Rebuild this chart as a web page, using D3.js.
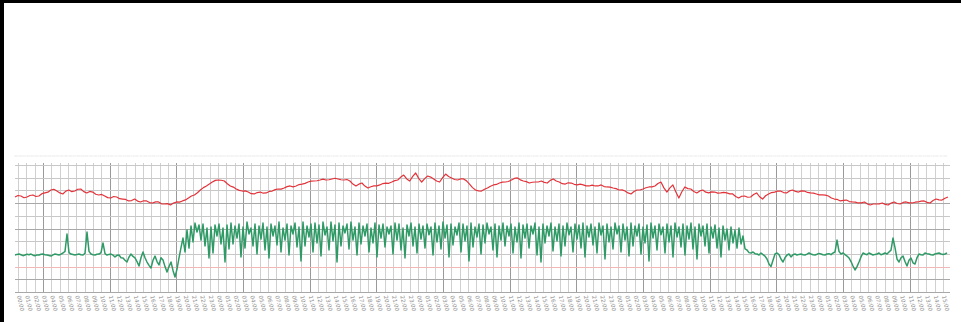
<!DOCTYPE html>
<html>
<head>
<meta charset="utf-8">
<script src="https://cdn.jsdelivr.net/npm/d3@7/dist/d3.min.js"></script>
<style>
html,body{margin:0;padding:0;background:#fff;}
svg{display:block;}
</style>
</head>
<body>
<svg id="chart" width="961" height="322"></svg>
<script>
// ---- tick labels (hourly) ----
const timeLabels = [
"00:00","01:00","02:00","03:00","04:00","05:00","06:00","07:00","08:00","09:00","10:00","11:00",
"12:00","13:00","14:00","15:00","16:00","17:00","18:00","19:00","20:00","21:00","22:00","23:00",
"00:00","01:00","02:00","03:00","04:00","05:00","06:00","07:00","08:00","09:00","10:00","11:00",
"12:00","13:00","14:00","15:00","16:00","17:00","18:00","19:00","20:00","21:00","22:00","23:00",
"00:00","01:00","02:00","03:00","04:00","05:00","06:00","07:00","08:00","09:00","10:00","11:00",
"12:00","13:00","14:00","15:00","16:00","17:00","18:00","19:00","20:00","21:00","22:00","23:00",
"00:00","01:00","02:00","03:00","04:00","05:00","06:00","07:00","08:00","09:00","10:00","11:00",
"12:00","13:00","14:00","15:00","16:00","17:00","18:00","19:00","20:00","21:00","22:00","23:00",
"00:00","01:00","02:00","03:00","04:00","05:00","06:00","07:00","08:00","09:00","10:00","11:00",
"12:00","13:00","14:00","15:00"
];

// ---- y grid values ----
const yTicks = [0,10,20,30,40,50,60,70,80,90,100];
const refLine = [20];

// ---- red series ----
const redValues = [
74.8,76.0,75.6,74.2,74.8,76.0,76.4,75.2,75.6,77.4,78.0,78.6,80.3,80.9,79.5,78.0,77.2,79.4,80.3,79.0,
79.5,80.9,81.1,79.0,78.0,79.2,78.7,77.0,76.4,76.8,75.6,74.3,74.0,75.2,74.8,73.5,73.2,72.9,71.7,72.0,
73.2,71.6,70.9,71.8,71.7,70.4,70.1,71.0,70.9,69.4,69.3,69.6,68.5,70.0,70.9,70.8,71.7,72.5,74.0,75.6,
76.4,78.2,80.3,82.2,83.5,85.0,86.6,87.9,88.2,88.0,87.4,85.2,83.5,82.6,81.1,80.0,79.5,79.6,78.7,77.4,
77.2,78.3,78.7,77.8,78.0,79.2,79.5,80.6,81.1,81.0,81.9,83.0,83.5,82.8,83.5,84.6,85.0,85.5,86.6,87.3,
87.4,87.6,88.2,88.9,88.2,88.4,89.0,89.6,89.0,88.4,88.2,88.6,87.4,85.0,83.5,84.9,85.8,83.4,81.9,82.9,
83.5,83.6,84.3,85.4,85.8,85.6,86.6,87.7,88.2,90.5,92.1,89.0,87.4,91.0,93.7,89.5,86.6,89.3,91.3,90.5,
89.0,87.4,86.6,90.0,92.9,91.0,89.8,88.6,88.2,89.0,89.0,87.5,85.0,82.2,80.3,79.6,79.5,80.9,81.9,83.3,
84.3,84.7,85.8,86.5,86.6,87.0,88.2,89.4,89.8,88.3,87.4,86.9,85.8,86.4,86.6,86.6,87.4,86.3,85.8,87.9,
89.0,87.4,86.6,85.3,85.0,86.0,85.8,84.8,84.3,84.9,84.3,83.6,83.5,84.2,83.5,83.5,84.3,83.0,82.7,82.6,
81.9,81.4,80.3,80.4,79.5,78.0,77.2,79.1,80.3,80.3,81.1,82.1,82.7,82.8,83.5,85.4,86.6,82.0,78.7,82.0,
84.3,78.8,74.0,78.9,82.7,81.4,81.1,79.1,78.0,79.6,80.3,78.6,78.0,78.8,78.7,77.9,78.0,78.5,78.0,77.3,
77.2,75.2,74.0,75.4,75.6,74.6,74.8,76.8,78.0,75.0,73.2,75.8,77.2,78.3,78.7,79.4,79.5,78.3,78.0,79.6,
80.3,79.2,78.7,79.6,79.5,78.4,78.0,77.9,77.2,76.5,76.4,76.3,75.6,74.0,73.2,72.9,71.7,72.2,72.4,71.2,
70.9,70.8,70.1,70.2,70.9,69.4,68.5,69.3,69.3,69.4,70.1,69.0,68.5,70.0,70.9,69.7,69.3,70.5,70.9,70.2,
70.1,70.7,70.9,71.6,71.7,70.6,70.1,72.0,73.2,72.5,72.4,73.8,74.8
];

// ---- green series ----
const greenValues = [
// quiet start
29.1,29.6,29.9,29.3,28.6,29.1,29.8,29.4,29.9,29.0,28.5,29.2,29.1,29.7,29.9,29.4,29.1,28.7,28.3,29.2,
29.9,29.5,29.1,29.8,30.7,32.0,45.7,31.0,29.9,29.5,29.1,29.6,29.9,29.3,29.1,30.5,47.2,32.0,29.9,29.4,
29.1,29.7,29.9,31.0,38.6,30.2,29.1,29.6,29.9,29.0,
// unsettled
27.6,28.9,29.1,27.0,26.8,25.0,23.6,27.5,29.9,28.0,26.8,24.0,20.5,27.0,31.5,27.0,23.6,21.0,18.9,25.0,
28.3,24.0,21.3,27.0,25.2,20.0,15.7,20.0,23.6,17.0,11.8,18.0,26.8,35.0,
// active band
42.5,31.5,48.8,34.6,52.0,39.4,54.3,47.2,52.8,40.9,53.5,36.2,50.4,26.8,51.2,30.7,52.8,44.1,53.5,37.8,
50.4,23.6,52.8,33.9,54.3,37.8,52.0,42.5,53.5,27.6,51.2,34.6,55.1,45.7,50.4,36.2,53.5,29.9,52.0,41.7,
54.3,33.1,51.2,26.8,53.5,44.1,52.0,37.0,55.1,31.5,50.4,40.9,53.5,29.1,52.0,45.7,54.3,35.4,51.2,24.4,
55.1,36.2,52.0,43.3,53.5,31.5,54.3,38.6,52.8,28.3,55.1,44.9,51.2,33.1,55.1,40.2,52.8,23.6,54.3,36.2,
52.0,46.5,53.5,33.9,55.1,40.9,51.2,29.1,54.3,37.8,52.0,44.1,53.5,31.5,50.4,38.6,54.3,27.6,52.8,42.5,
53.5,35.4,51.2,45.7,52.0,29.9,54.3,40.9,53.5,33.1,50.4,26.8,52.8,44.1,54.3,36.2,51.2,30.7,53.5,41.7,
52.0,34.6,53.5,45.0,51.2,29.1,54.3,39.4,52.0,33.9,55.1,42.5,52.8,27.6,53.5,37.0,51.2,44.9,54.3,31.5,
53.5,40.2,52.0,24.4,54.3,35.4,51.2,43.3,53.5,29.9,52.8,38.6,54.3,45.7,51.2,33.1,53.5,27.6,52.0,40.9,
54.3,36.2,52.0,44.1,53.5,30.7,51.2,39.4,54.3,26.8,52.8,42.5,53.5,34.6,52.0,45.7,54.3,29.1,51.2,23.6,
53.5,38.6,52.0,44.1,54.3,32.3,51.2,40.2,53.5,28.3,52.0,36.2,54.3,45.0,51.2,31.5,53.5,41.7,52.8,34.6,
54.3,27.6,52.0,43.3,53.5,37.0,51.2,30.7,54.3,44.9,52.0,26.0,53.5,39.4,51.2,33.9,54.3,45.7,52.0,31.5,
53.5,40.9,51.2,28.3,54.3,36.2,52.0,44.1,53.5,29.9,51.2,38.6,52.8,24.4,54.3,42.5,52.0,33.1,53.5,45.0,
51.2,30.7,53.5,39.4,52.0,27.6,54.3,43.3,51.2,35.4,53.5,29.1,52.0,41.7,54.3,33.9,51.2,26.0,53.5,44.1,
52.0,36.2,53.5,30.7,51.2,42.5,52.8,34.6,50.4,27.6,52.0,40.9,49.6,33.1,51.2,38.6,48.8,34.6,50.4,37.8,
44.1,33.9,
// quiet end
33.1,31.0,30.7,31.5,30.2,29.9,29.1,30.7,29.5,28.3,26.0,22.0,20.0,25.0,29.9,30.7,29.4,26.0,23.6,27.0,
29.1,29.9,27.6,29.4,29.9,29.1,29.6,29.9,29.3,29.1,29.8,30.7,29.9,29.4,29.1,29.7,30.4,29.9,29.3,29.1,
29.9,30.2,29.4,30.7,31.5,40.9,32.0,29.9,30.7,29.4,28.3,26.8,24.0,20.5,17.3,20.0,23.6,27.6,30.7,29.9,
29.4,30.7,29.9,29.1,29.6,29.9,30.7,29.3,29.9,30.7,29.9,31.5,33.0,42.5,35.0,26.0,23.6,27.0,28.3,24.0,
20.5,25.0,26.8,23.0,22.0,27.0,29.9,29.4,29.1,30.7,30.2,29.9,29.4,29.1,29.9,30.4,30.7,29.9,29.6,29.9,
30.7
];

const W = 961, H = 322;
const plot = {left: 15, right: 948, top: 165, bottom: 292};

const svg = d3.select("#chart");
svg.append("rect").attr("x",0).attr("y",0).attr("width",W).attr("height",H).attr("fill","#fff");

// category (tick) scale
const x = d3.scaleLinear().domain([0, timeLabels.length - 1]).range([18, 943]);
const y = d3.scaleLinear().domain([0, 100]).range([plot.bottom, plot.top]);

// sample-index scales spanning the full plotted width
const xRed = d3.scaleLinear().domain([0, redValues.length - 1]).range([x.invert(plot.left), x.invert(plot.right)]);
const xGreen = d3.scaleLinear().domain([0, greenValues.length - 1]).range([x.invert(plot.left), x.invert(plot.right - 1)]);

const grid = svg.append("g");
grid.selectAll("line.v").data(timeLabels).join("line")
  .attr("class","v")
  .attr("x1",(d,i)=>Math.round(x(i))+0.5).attr("x2",(d,i)=>Math.round(x(i))+0.5)
  .attr("y1",163).attr("y2",plot.bottom)
  .attr("stroke",(d,i)=> (i % 8 === 3) ? "#9a9a9a" : "#d0d0d0")
  .attr("stroke-width",1);
grid.selectAll("line.h").data(yTicks).join("line")
  .attr("class","h")
  .attr("x1",plot.left).attr("x2",plot.right+2)
  .attr("y1",d=>Math.round(y(d))+0.5).attr("y2",d=>Math.round(y(d))+0.5)
  .attr("stroke",d=> (d===0||d===10||d===50||d===70) ? "#a8a8a8" : "#c8c8c8")
  .attr("stroke-width",1);
grid.selectAll("line.r").data(refLine).join("line")
  .attr("class","r")
  .attr("x1",plot.left).attr("x2",plot.right+2)
  .attr("y1",d=>Math.round(y(d))+0.5).attr("y2",d=>Math.round(y(d))+0.5)
  .attr("stroke","#f2b8b8").attr("stroke-width",1);

// faint top labels
svg.append("g").selectAll("text").data(timeLabels).join("text")
  .attr("x",(d,i)=>x(i)).attr("y",157)
  .attr("text-anchor","middle")
  .attr("font-family","DejaVu Sans, sans-serif").attr("font-size",2.7)
  .attr("fill","#e6e6e6").text(d=>d);

// bottom rotated labels
svg.append("g").selectAll("text").data(timeLabels).join("text")
  .attr("transform",(d,i)=>`translate(${x(i)-1},296) rotate(77)`)
  .attr("text-anchor","start")
  .attr("font-family","DejaVu Sans, sans-serif").attr("font-size",5.5)
  .attr("fill","#8a8a8a").text(d=>d);

const lineRed = d3.line().x((d,i)=>x(xRed(i))).y(d=>y(d));
const lineGreen = d3.line().x((d,i)=>x(xGreen(i))).y(d=>y(d));

svg.append("path").datum(greenValues)
  .attr("d",lineGreen).attr("fill","none")
  .attr("stroke","#2f9a66").attr("stroke-width",1.5).attr("stroke-linejoin","round");
svg.append("path").datum(redValues)
  .attr("d",lineRed).attr("fill","none")
  .attr("stroke","#e2333a").attr("stroke-width",1.2).attr("stroke-linejoin","round");

// black frame (top & left)
svg.append("rect").attr("x",0).attr("y",0).attr("width",W).attr("height",3).attr("fill","#000");
svg.append("rect").attr("x",0).attr("y",0).attr("width",4).attr("height",H).attr("fill","#000");
</script>
</body>
</html>
